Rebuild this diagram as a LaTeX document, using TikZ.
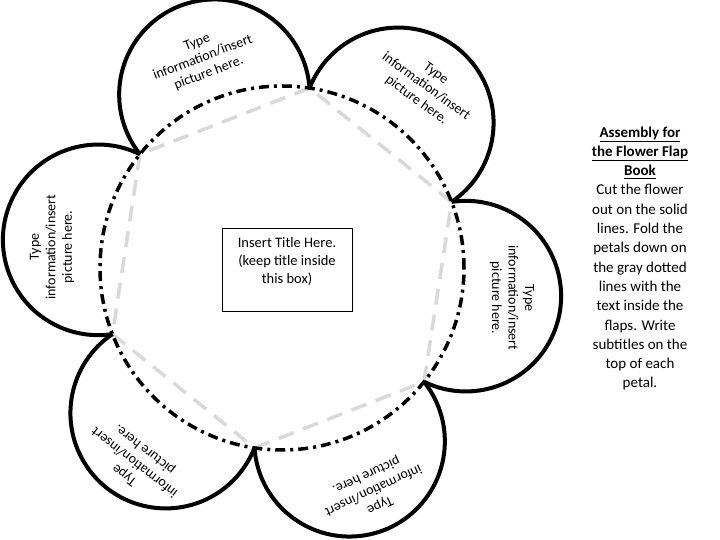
\documentclass[tikz,border=0pt]{standalone}
\usepackage{amsmath}
\usepackage{fontspec}
\setmainfont{Carlito}
\usepackage{xcolor}
\definecolor{foldgray}{HTML}{D9D9D9}
\usepackage{tikz}
\usetikzlibrary{calc}
\tikzset{
    petal/.style={
        draw=black,
        line width=4pt,
    },
    cutline/.style={
        draw=black,
        line width=3.5pt,
        dash pattern=on 10pt off 5pt on 3pt off 5pt,
    },
    foldline/.style={
        draw=foldgray,
        line width=3.5pt,
        dash pattern=on 16pt off 10pt,
    },
    petaltext/.style={
        align=center,
        font=\fontsize{14}{16.5}\selectfont,
        inner sep=0pt,
    },
    titlebox/.style={
        draw=black,
        line width=0.8pt,
        minimum width=130pt,
        minimum height=83pt,
    },
    titletext/.style={
        align=center,
        font=\fontsize{14.5}{18}\selectfont,
        inner sep=0pt,
    },
    notes/.style={
        align=center,
        font=\fontsize{15}{19.3}\selectfont,
        inner sep=0pt,
    },
}
\newcommand{\headline}[1]{\smash[b]{\textbf{\underline{#1}}}}

\begin{document}
\begin{tikzpicture}[x=1pt, y=1pt]
    \useasboundingbox (0,0) rectangle (720,540);

    % Flower centre and petal corners
    \coordinate (c) at (282,272);
    \coordinate (v1) at ($(c)+(21.3:182)$);
    \coordinate (v2) at ($(c)+(81.3:182)$);
    \coordinate (v3) at ($(c)+(141.3:182)$);
    \coordinate (v4) at ($(c)+(201.3:182)$);
    \coordinate (v5) at ($(c)+(261.3:182)$);
    \coordinate (v6) at ($(c)+(321.3:182)$);

    % Fold lines (gray hexagon)
    \draw[foldline] (v1) -- (v2) -- (v3) -- (v4) -- (v5) -- (v6) -- cycle;

    % Cut line round the centre
    \draw[cutline] (c) circle[radius=182];

    % Petals
    \draw[petal] (v1) arc[start angle=-56, end angle=158.6, radius=95.3];
    \draw[petal] (v2) arc[start angle=4, end angle=218.6, radius=95.3];
    \draw[petal] (v3) arc[start angle=64, end angle=278.6, radius=95.3];
    \draw[petal] (v4) arc[start angle=124, end angle=338.6, radius=95.3];
    \draw[petal] (v5) arc[start angle=184, end angle=398.6, radius=95.3];
    \draw[petal] (v6) arc[start angle=244, end angle=458.6, radius=95.3];

    % Petal texts
    \node[petaltext, rotate=21] (ptop) at (203,482) {Type\\information/insert\\picture here.};
    \node[petaltext, rotate=-36] (ptopright) at (426,453) {Type\\information/insert\\picture here.};
    \node[petaltext, rotate=90] (pleft) at (52,293) {Type\\information/insert\\picture here.};
    \node[petaltext, rotate=-90] (pright) at (512,242) {Type\\information/insert\\picture here.};
    \node[petaltext, rotate=142] (pbotleft) at (135,78) {Type\\information/insert\\picture here.};
    \node[petaltext, rotate=205] (pbotright) at (373,50) {Type\\information/insert\\picture here.};

    % Title box
    \node[titlebox] (title) at (287,270.5) {};
    \node[titletext] (titlehint) at (287,279) {Insert Title Here.\\(keep title inside\\this box)};

    % Instructions
    \node[notes] (howto) at (640,281.5) {
        \headline{Assembly for}\\
        \headline{the Flower Flap}\\
        \headline{Book}\\
        Cut the flower\\
        out on the solid\\
        lines. Fold the\\
        petals down on\\
        the gray dotted\\
        lines with the\\
        text inside the\\
        flaps. Write\\
        subtitles on the\\
        top of each\\
        petal.
    };
\end{tikzpicture}
\end{document}
